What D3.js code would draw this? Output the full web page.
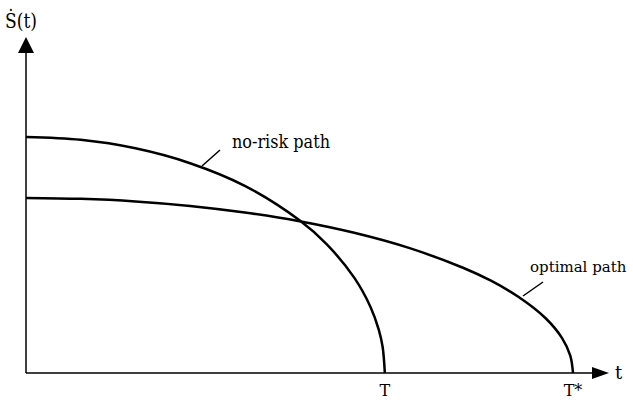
<!DOCTYPE html>
<html>
<head>
<meta charset="utf-8">
<script src="https://cdn.jsdelivr.net/npm/d3@7"></script>
<style>
  body { margin: 0; background: #fff; }
</style>
</head>
<body>
<svg width="633" height="400"></svg>
<script>
// t in units where T* = 10, S in units where no-risk start = 10
const noRiskT = [0, 1, 2, 3, 4, 5, 5.5, 6, 6.3, 6.45, 6.52, 6.56];
const noRiskS = [10, 9.88, 9.52, 8.89, 7.93, 6.47, 5.45, 4.04, 2.79, 1.83, 1.10, 0];
const optimalT = [0, 1, 2, 3, 4, 5, 6, 7, 8, 8.5, 9, 9.5, 9.8, 9.95, 10];
const optimalS = [7.42, 7.38, 7.27, 7.08, 6.80, 6.43, 5.94, 5.30, 4.45, 3.91, 3.23, 2.32, 1.48, 0.74, 0];
const tickT = [6.56, 10];
const tickLabels = ["T", "T*"];

const svg = d3.select("svg");
const serif = "'DejaVu Serif', serif";

const x = d3.scaleLinear().domain([0, 10]).range([26, 573]);
const y = d3.scaleLinear().domain([0, 10]).range([373, 137]);

const x0 = x(0), y0 = y(0);

// axes
svg.append("line")
  .attr("x1", x0).attr("y1", y0).attr("x2", x0).attr("y2", 50)
  .attr("stroke", "#000").attr("stroke-width", 1.5);
svg.append("path")
  .attr("d", `M${x0},37 L${x0 - 8},53 L${x0 + 8},53 Z`)
  .attr("fill", "#000");

svg.append("line")
  .attr("x1", x0).attr("y1", y0).attr("x2", 595).attr("y2", y0)
  .attr("stroke", "#000").attr("stroke-width", 1.5);
svg.append("path")
  .attr("d", `M609,${y0} L592,${y0 - 6} L592,${y0 + 6} Z`)
  .attr("fill", "#000");

svg.append("text")
  .attr("x", 5).attr("y", 28)
  .attr("font-family", serif)
  .attr("font-size", 20)
  .attr("textLength", 32)
  .attr("lengthAdjust", "spacingAndGlyphs")
  .text("Ṡ(t)");

svg.append("text")
  .attr("x", 615).attr("y", y0 + 6)
  .attr("font-family", serif)
  .attr("font-size", 18)
  .text("t");

svg.selectAll(".tick-label")
  .data(tickT)
  .enter()
  .append("text")
  .attr("class", "tick-label")
  .attr("x", d => x(d))
  .attr("y", 396)
  .attr("text-anchor", "middle")
  .attr("font-family", serif)
  .attr("font-size", 16)
  .text((d, i) => tickLabels[i]);

// curves
const line = d3.line()
  .x(d => x(d[0]))
  .y(d => y(d[1]))
  .curve(d3.curveCatmullRom);

svg.append("path")
  .datum(noRiskT.map((t, i) => [t, noRiskS[i]]))
  .attr("d", line)
  .attr("fill", "none")
  .attr("stroke", "#000")
  .attr("stroke-width", 2.5);

svg.append("path")
  .datum(optimalT.map((t, i) => [t, optimalS[i]]))
  .attr("d", line)
  .attr("fill", "none")
  .attr("stroke", "#000")
  .attr("stroke-width", 2.5);

// labels with leader lines
svg.append("line")
  .attr("x1", 220).attr("y1", 150).attr("x2", 202).attr("y2", 166)
  .attr("stroke", "#000").attr("stroke-width", 1.5);
svg.append("text")
  .attr("x", 232).attr("y", 148)
  .attr("font-family", serif)
  .attr("font-size", 18)
  .attr("textLength", 98)
  .attr("lengthAdjust", "spacingAndGlyphs")
  .text("no-risk path");

svg.append("line")
  .attr("x1", 543).attr("y1", 282).attr("x2", 523).attr("y2", 296)
  .attr("stroke", "#000").attr("stroke-width", 1.5);
svg.append("text")
  .attr("x", 530).attr("y", 272)
  .attr("font-family", serif)
  .attr("font-size", 15)
  .text("optimal path");
</script>
</body>
</html>
